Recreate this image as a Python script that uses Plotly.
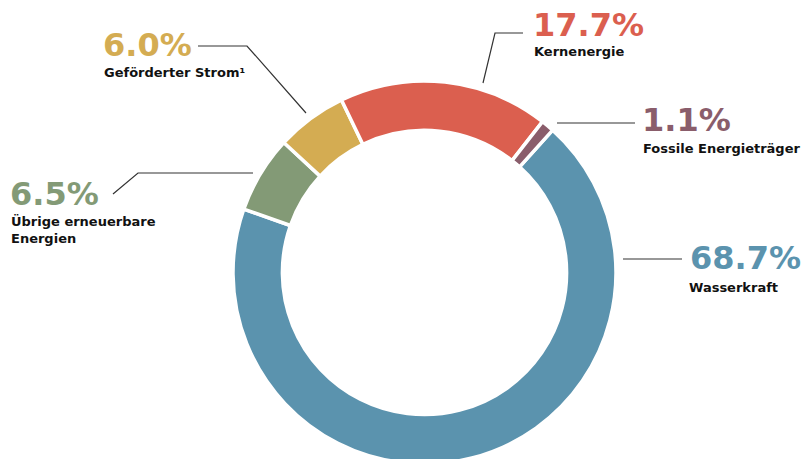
import plotly.graph_objects as go

# Data
categories = ["Wasserkraft", "Übrige erneuerbare<br>Energien", "Geförderter Strom¹",
              "Kernenergie", "Fossile Energieträger"]
values = [68.7, 6.5, 6.0, 17.7, 1.1]
colors = ["#5B93AE", "#839A76", "#D4AC52", "#DB5F4F", "#8A5D6B"]

W, H = 803, 470  # figure slightly taller than the window so the ring is cut at the bottom

fig = go.Figure(go.Pie(
    labels=categories,
    values=values,
    sort=False,
    direction="clockwise",
    rotation=42,
    hole=0.742,
    textinfo="none",
    hoverinfo="label+percent",
    marker=dict(colors=colors, line=dict(color="white", width=3.5)),
    domain=dict(x=[233 / W, 616 / W], y=[1 - 464 / H, 1 - 81 / H]),
    showlegend=False,
))

def px(x):
    return x / W

def py(y):
    return 1 - y / H

# label placement (pixel anchors of number and name)
label_pos = [
    (689, 258, 688, 287),   # Wasserkraft
    (9, 194, 10, 230),      # Übrige
    (102, 45, 103, 72),     # Gefördert
    (532, 25, 533, 52),     # Kern
    (641, 120, 642, 148),   # Fossil
]
font_fam = "DejaVu Sans"
annotations = []
for cat, v, c, (nx, ny, lx, ly) in zip(categories, values, colors, label_pos):
    annotations.append(dict(
        x=px(nx), y=py(ny), xref="paper", yref="paper", xanchor="left", yanchor="middle",
        text=f"<b>{v:.1f}%</b>", showarrow=False, borderpad=0,
        font=dict(family=font_fam, size=32, color=c),
    ))
    annotations.append(dict(
        x=px(lx), y=py(ly), xref="paper", yref="paper", xanchor="left", yanchor="middle",
        text=f"<b>{cat}</b>", showarrow=False, align="left", borderpad=0,
        font=dict(family=font_fam, size=13, color="#111111"),
    ))

# leader lines (pixel polylines)
leaders = [
    [(623, 259), (682, 259)],
    [(113, 194), (138, 173), (253, 173)],
    [(198, 46), (247, 46), (306, 113)],
    [(523, 33), (495, 33), (483, 83)],
    [(557, 123), (635, 123)],
]
shapes = []
for pts in leaders:
    path = "M " + " L ".join(f"{px(x)},{py(y)}" for x, y in pts)
    shapes.append(dict(type="path", path=path, xref="paper", yref="paper",
                       line=dict(color="#333333", width=1.2)))

fig.update_layout(
    width=W, height=H,
    margin=dict(l=0, r=0, t=0, b=0),
    paper_bgcolor="white", plot_bgcolor="white",
    annotations=annotations, shapes=shapes,
)

fig.write_html(
    "out.html",
    config={"displayModeBar": False},
    post_script="document.body.style.margin='0px';document.body.style.overflow='hidden';",
)
